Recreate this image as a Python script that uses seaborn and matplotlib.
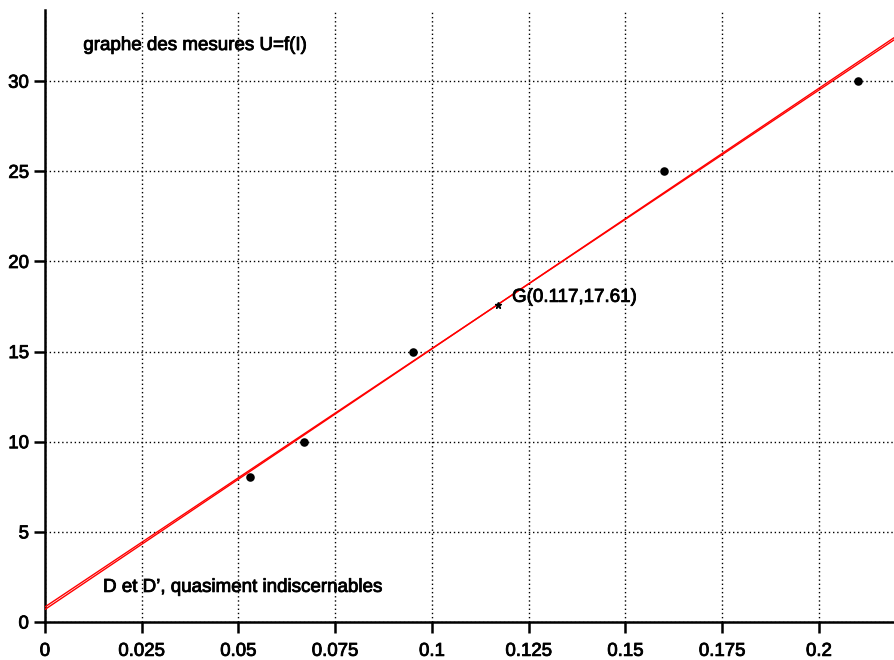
import numpy as np
import pandas as pd
import matplotlib
matplotlib.use("Agg")
import matplotlib.pyplot as plt
import matplotlib.patheffects as pe
import seaborn as sns

# Measurements: current I (A) and voltage U (V)
courant_I = [0.053, 0.067, 0.095, 0.16, 0.21]
tension_U = [8.05, 10, 15, 25, 30]

x_ticks = [0, 0.025, 0.05, 0.075, 0.1, 0.125, 0.15, 0.175, 0.2]
x_tick_labels = ["0", "0.025", "0.05", "0.075", "0.1", "0.125", "0.15", "0.175", "0.2"]
y_ticks = [0, 5, 10, 15, 20, 25, 30]
y_tick_labels = ["0", "5", "10", "15", "20", "25", "30"]

titre = "graphe des mesures U=f(I)"
legende_droites = "D et D\u2019, quasiment indiscernables"

sns.set_theme(style="white")
plt.rcParams["font.family"] = ["Liberation Sans", "DejaVu Sans"]

df = pd.DataFrame({"I": courant_I, "U": tension_U})

# Mean point G and the two regression lines (U on I, and I on U)
xg = float(np.mean(courant_I))
yg = float(np.mean(tension_U))
dx = np.array(courant_I) - xg
dy = np.array(tension_U) - yg
sxy = float(np.sum(dx * dy))
sxx = float(np.sum(dx * dx))
syy = float(np.sum(dy * dy))
pente_D = sxy / sxx
pente_Dp = syy / sxy
ord_D = yg - pente_D * xg
ord_Dp = yg - pente_Dp * xg

fig = plt.figure(figsize=(8.94, 6.60), dpi=100)
ax = fig.add_axes([45 / 894, 38 / 660, 1 - 45 / 894, (622 - 10) / 660])

ax.set_xlim(0, 0.2194)
ax.set_ylim(0, 33.95)

ax.set_xticks(x_ticks)
ax.set_xticklabels(x_tick_labels)
ax.set_yticks(y_ticks)
ax.set_yticklabels(y_tick_labels)

ax.grid(True, color="black", linestyle=(0, (1, 2)), linewidth=1.0)
ax.set_axisbelow(True)

for side in ["top", "right"]:
    ax.spines[side].set_visible(False)
for side in ["left", "bottom"]:
    ax.spines[side].set_color("black")
    ax.spines[side].set_linewidth(1.8)

ax.tick_params(axis="both", which="major", direction="out", length=8, width=1.8,
               color="black", labelsize=13.4, labelcolor="black")
ax.tick_params(axis="x", pad=7)
ax.tick_params(axis="y", pad=3.5)
ax.xaxis.set_ticks_position("bottom")
ax.yaxis.set_ticks_position("left")

# slightly heavier glyph strokes
trait = [pe.withStroke(linewidth=0.6, foreground="black")]
for lab in ax.get_xticklabels() + ax.get_yticklabels():
    lab.set_path_effects(trait)

# Regression lines D and D'
ax.axline((0, ord_D), slope=pente_D, color="red", linewidth=1.0, zorder=3)
ax.axline((0, ord_Dp), slope=pente_Dp, color="red", linewidth=1.0, zorder=3)

sns.scatterplot(data=df, x="I", y="U", ax=ax, color="black", s=38,
                edgecolor="black", linewidth=0, zorder=4, legend=False)

# Mean point G
ax.plot([xg], [yg], marker="*", color="black", markersize=5, linestyle="none", zorder=5)
ax.text(xg + 0.0037, yg + 0.4, f"G({xg:.3f},{yg:.2f})", fontsize=13.5,
        color="black", ha="left", va="center", zorder=5, path_effects=trait)

ax.text(0.0099, 31.98, titre, fontsize=13.5, color="black", ha="left", va="center",
        path_effects=trait)
ax.text(0.0150, 1.92, legende_droites, fontsize=13.5, color="black", ha="left",
        va="center", path_effects=trait)

ax.set_xlabel("")
ax.set_ylabel("")

fig.savefig("out.png", dpi=100)
